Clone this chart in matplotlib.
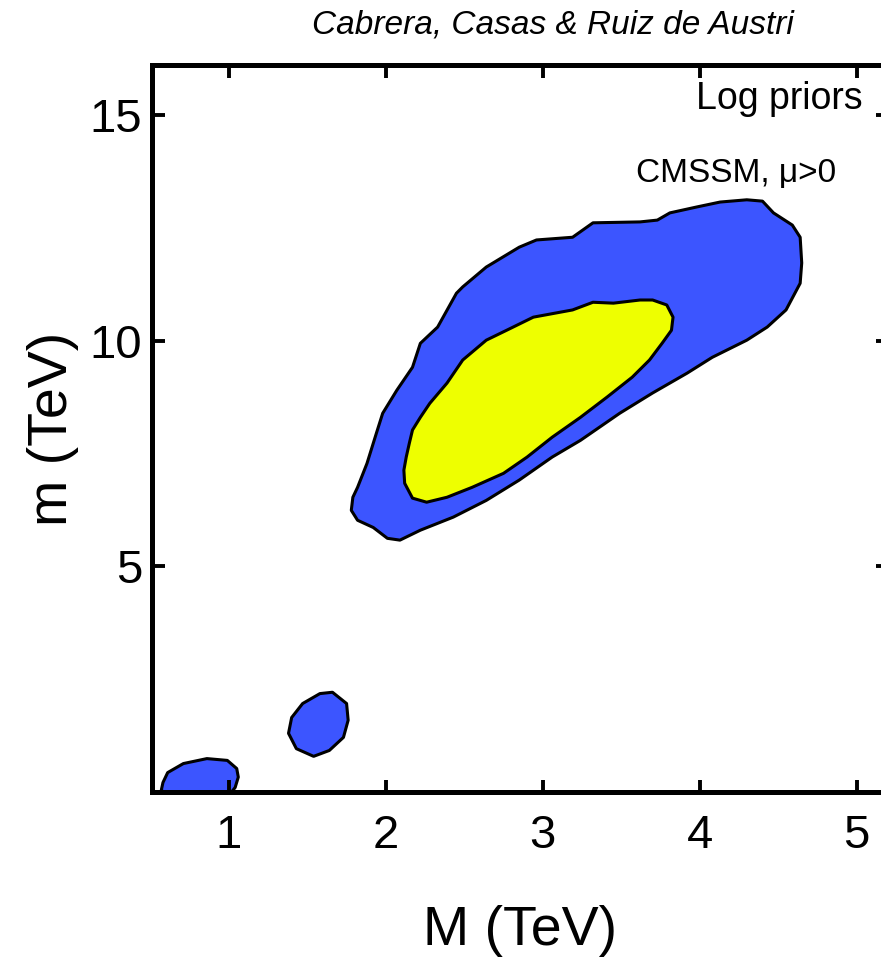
import matplotlib.pyplot as plt

plt.rcParams['font.family'] = ['Liberation Sans', 'DejaVu Sans']

# 95% region (outer, blue) in (M, m) TeV
outer_M = [4.40, 4.47, 4.59, 4.64, 4.65, 4.64, 4.55, 4.43, 4.30, 4.08, 3.92, 3.70,
           3.49, 3.24, 3.06, 2.85, 2.64, 2.43, 2.22, 2.09, 2.01, 1.92, 1.82, 1.78,
           1.79, 1.82, 1.88, 1.94, 1.98, 2.07, 2.17, 2.22, 2.33, 2.45, 2.49, 2.64, 2.85,
           2.96, 3.19, 3.32, 3.62, 3.73, 3.81, 3.98, 4.13, 4.30]
outer_m = [13.09, 12.83, 12.56, 12.29, 11.72, 11.27, 10.68, 10.30, 10.01, 9.63, 9.28, 8.84,
           8.39, 7.79, 7.42, 6.91, 6.46, 6.09, 5.80, 5.58, 5.62, 5.86, 6.02, 6.24,
           6.53, 6.75, 7.28, 7.95, 8.39, 8.90, 9.41, 9.94, 10.30, 11.05, 11.19, 11.63, 12.07,
           12.23, 12.29, 12.61, 12.63, 12.67, 12.83, 12.96, 13.07, 13.12]

# 68% region (inner, yellow)
inner_M = [3.70, 3.79, 3.83, 3.82, 3.76, 3.68, 3.57, 3.41, 3.24, 3.06, 2.90, 2.75,
           2.55, 2.39, 2.26, 2.17, 2.12, 2.115, 2.13, 2.15, 2.17, 2.22, 2.28, 2.39,
           2.49, 2.64, 2.77, 2.94, 3.19, 3.32, 3.45, 3.62]
inner_m = [10.90, 10.79, 10.52, 10.23, 9.94, 9.57, 9.19, 8.75, 8.30, 7.86, 7.42, 7.06,
           6.75, 6.53, 6.42, 6.51, 6.84, 7.13, 7.42, 7.73, 8.02, 8.30, 8.61, 9.06,
           9.57, 10.01, 10.23, 10.52, 10.68, 10.85, 10.83, 10.90]

# small 95% islands at low masses
island1_M = [0.58, 0.61, 0.71, 0.86, 0.99, 1.05, 1.06, 1.04, 1.01, 0.97, 0.62, 0.57]
island1_m = [0.21, 0.43, 0.63, 0.74, 0.70, 0.52, 0.33, 0.10, -0.03, -0.20, -0.20, 0.05]
island2_M = [1.66, 1.75, 1.76, 1.73, 1.64, 1.54, 1.43, 1.38, 1.40, 1.47, 1.58]
island2_m = [2.21, 1.96, 1.59, 1.21, 0.92, 0.79, 0.96, 1.30, 1.65, 1.96, 2.18]

x_ticks = [1, 2, 3, 4, 5]
y_ticks = [5, 10, 15]

blue = '#3c55ff'
yellow = '#eeff00'

fig = plt.figure(figsize=(8.81, 9.6), dpi=100)
ax = fig.add_axes([0.1725, 0.175, 0.8355, 0.757])

for xs, ys in [(outer_M, outer_m), (island1_M, island1_m), (island2_M, island2_m)]:
    ax.fill(xs, ys, facecolor=blue, edgecolor='black', linewidth=2.2, joinstyle='round')
ax.fill(inner_M, inner_m, facecolor=yellow, edgecolor='black', linewidth=2.2, joinstyle='round')

ax.set_xlim(0.51, 5.2)
ax.set_ylim(0, 16.1)
ax.set_xticks(x_ticks)
ax.set_yticks(y_ticks)
ax.tick_params(direction='in', length=9, width=2.8, top=True, right=True,
               labelsize=34)
ax.tick_params(axis='x', pad=16)
ax.tick_params(axis='y', pad=7)
for s in ax.spines.values():
    s.set_linewidth(3.6)

ax.set_xlabel('M (TeV)', fontsize=40, labelpad=34)
ax.set_ylabel('m (TeV)', fontsize=40, labelpad=8)

ax.text(0.965, 0.94, 'Log priors', transform=ax.transAxes, ha='right',
        va='baseline', fontsize=27)
ax.text(0.929, 0.851, 'CMSSM, \u03bc>0', transform=ax.transAxes, ha='right',
        va='center', fontsize=24)

fig.text(0.354, 0.974, 'Cabrera, Casas & Ruiz de Austri', style='italic',
         fontsize=24, ha='left', va='center')

fig.savefig('out.png', dpi=100)
